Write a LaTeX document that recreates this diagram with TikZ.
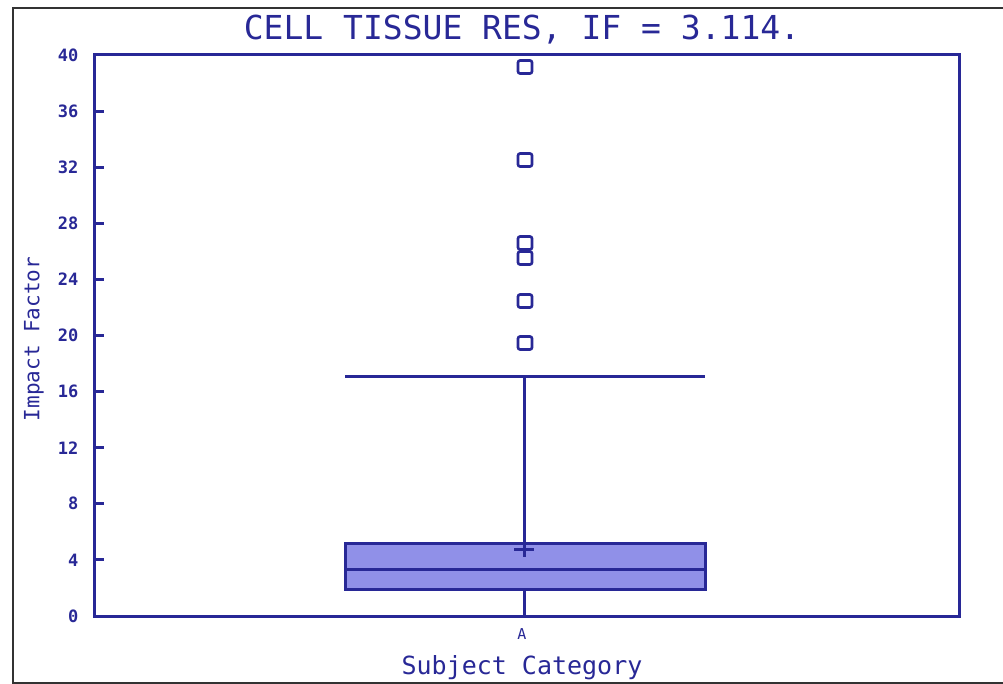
\documentclass[tikz,border=0pt]{standalone}
\usepackage{fontspec}
\setmonofont{DejaVu Sans Mono}

\definecolor{plotblue}{RGB}{40,40,150}
\definecolor{boxfill}{RGB}{144,144,232}

\begin{document}
\begin{tikzpicture}[x=1pt,y=-1pt,
    axis/.style={draw=plotblue,line width=3pt},
    outlier/.style={draw=plotblue,line width=2.6pt,rounded corners=2pt,minimum width=14pt,minimum height=13pt,inner sep=0pt},
    ticklabel/.style={text=plotblue,font=\ttfamily\bfseries\fontsize{17}{17}\selectfont,anchor=east}]
    \useasboundingbox (0,0) rectangle (1003,684);
    \draw[line width=2pt,black!80] (1003,8) -- (13,8) -- (13,683) -- (1003,683);
    % title
    \node[text=plotblue,font=\ttfamily\fontsize{33}{33}\selectfont] (title) at (522,30) {CELL TISSUE RES, IF = 3.114.};
    % frame
    \coordinate (ll) at (94,616);
    \coordinate (ur) at (959,55);
    \draw[axis] (ll) rectangle (ur);
    \foreach \v in {0,4,...,40} {
        \draw[axis] (94,616-14.025*\v) -- (104,616-14.025*\v);
        \node[ticklabel] (t\v) at (82,616-14.025*\v) {\v};
    }
    % box
    \coordinate (q1) at (345,589);
    \coordinate (q3) at (705,543);
    \draw[axis,fill=boxfill] (q1) rectangle (q3);
    \draw[axis] (345,569) -- (705,569);
    \draw[axis] (524,589) -- (524,616);
    \draw[axis] (524,543) -- (524,376);
    \draw[axis] (345,376) -- (705,376);
    \draw[axis] (514,549) -- (534,549);
    \draw[axis] (524,541) -- (524,557);
    % outliers
    \node[outlier] (o1) at (525,67) {};
    \node[outlier] (o2) at (525,160) {};
    \node[outlier] (o3) at (525,243) {};
    \node[outlier] (o4) at (525,258) {};
    \node[outlier] (o5) at (525,301) {};
    \node[outlier] (o6) at (525,343) {};
    % labels
    \node[text=plotblue,font=\ttfamily\fontsize{15}{15}\selectfont] (cat) at (522,634) {A};
    \node[text=plotblue,font=\ttfamily\fontsize{25}{25}\selectfont] (xlab) at (522,668) {Subject Category};
    \node[text=plotblue,font=\ttfamily\fontsize{21}{21}\selectfont,rotate=90] (ylab) at (34,339) {Impact Factor};
\end{tikzpicture}
\end{document}
